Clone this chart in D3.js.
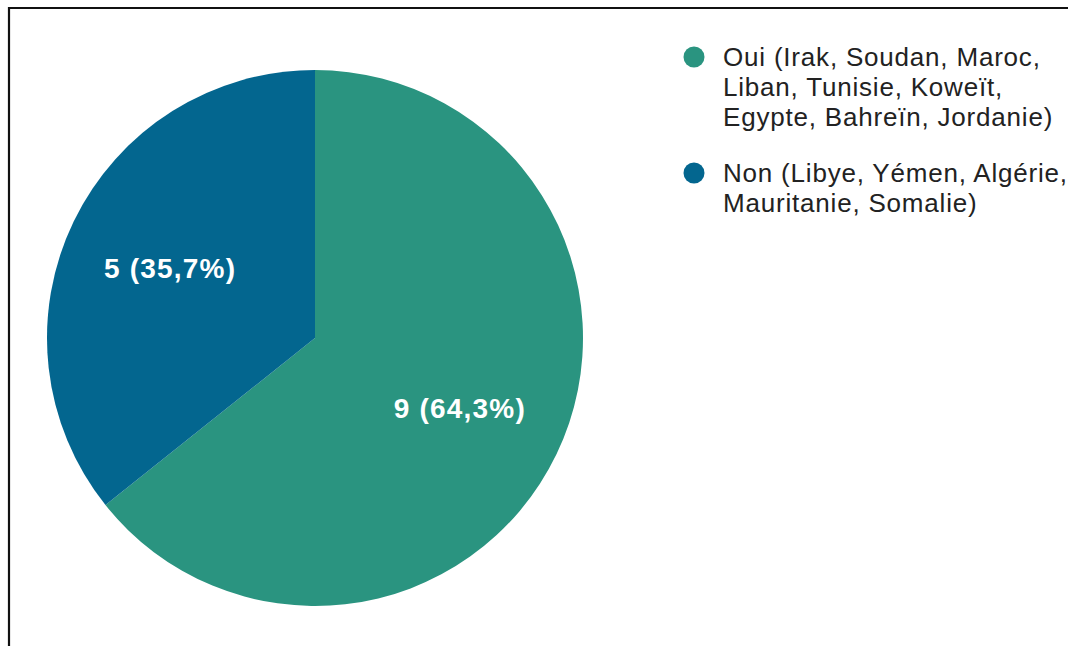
<!DOCTYPE html>
<html>
<head>
<meta charset="utf-8">
<script src="https://cdn.jsdelivr.net/npm/d3@7"></script>
<style>
  body { margin: 0; background: #fff; }
  svg { display: block; }
</style>
</head>
<body>
<div id="chart"></div>
<script>
// Data
const categories = ['Oui', 'Non'];
const counts = [9, 5];
const legendLines = [
  ['Oui (Irak, Soudan, Maroc,', 'Liban, Tunisie, Koweït,', 'Egypte, Bahreïn, Jordanie)'],
  ['Non (Libye, Yémen, Algérie,', 'Mauritanie, Somalie)']
];
const colors = ['#2a9480', '#03668f'];

const width = 1068;
const height = 646;
const cx = 315, cy = 338, radius = 268;

const svg = d3.select('#chart').append('svg')
  .attr('width', width)
  .attr('height', height);

// frame (top + left edges visible)
svg.append('path')
  .attr('d', `M9,${height} L9,8 L${width},8`)
  .attr('fill', 'none')
  .attr('stroke', '#111')
  .attr('stroke-width', 2.2);

const total = d3.sum(counts);
const pie = d3.pie().sort(null).value(d => d);
const arc = d3.arc().innerRadius(0).outerRadius(radius);
const labelArc = d3.arc().innerRadius(radius * 0.6).outerRadius(radius * 0.6);

const g = svg.append('g').attr('transform', `translate(${cx},${cy})`);
const arcs = pie(counts);

g.selectAll('path.slice')
  .data(arcs)
  .enter().append('path')
  .attr('class', 'slice')
  .attr('d', arc)
  .attr('fill', (d, i) => colors[i]);

g.selectAll('text.lbl')
  .data(arcs)
  .enter().append('text')
  .attr('class', 'lbl')
  .attr('transform', d => `translate(${labelArc.centroid(d)})`)
  .attr('text-anchor', 'middle')
  .attr('dy', '0.36em')
  .style('font-family', 'Liberation Sans, Arial, sans-serif')
  .style('font-weight', 'bold')
  .style('font-size', '28px')
  .style('letter-spacing', '1.2px')
  .style('fill', '#fff')
  .text(d => `${d.data} (${(d.data / total * 100).toFixed(1).replace('.', ',')}%)`);

// legend
const legendY = [57, 173];
const legend = svg.append('g');
categories.forEach((c, i) => {
  const lg = legend.append('g').attr('transform', `translate(694,${legendY[i]})`);
  lg.append('circle').attr('r', 10.5).attr('fill', colors[i]);
  legendLines[i].forEach((line, j) => {
    lg.append('text')
      .attr('x', 29)
      .attr('y', j * 30)
      .attr('dy', '0.36em')
      .style('font-family', 'Liberation Sans, Arial, sans-serif')
      .style('font-size', '26px')
      .style('letter-spacing', '0.8px')
      .style('fill', '#222')
      .text(line);
  });
});
</script>
</body>
</html>
